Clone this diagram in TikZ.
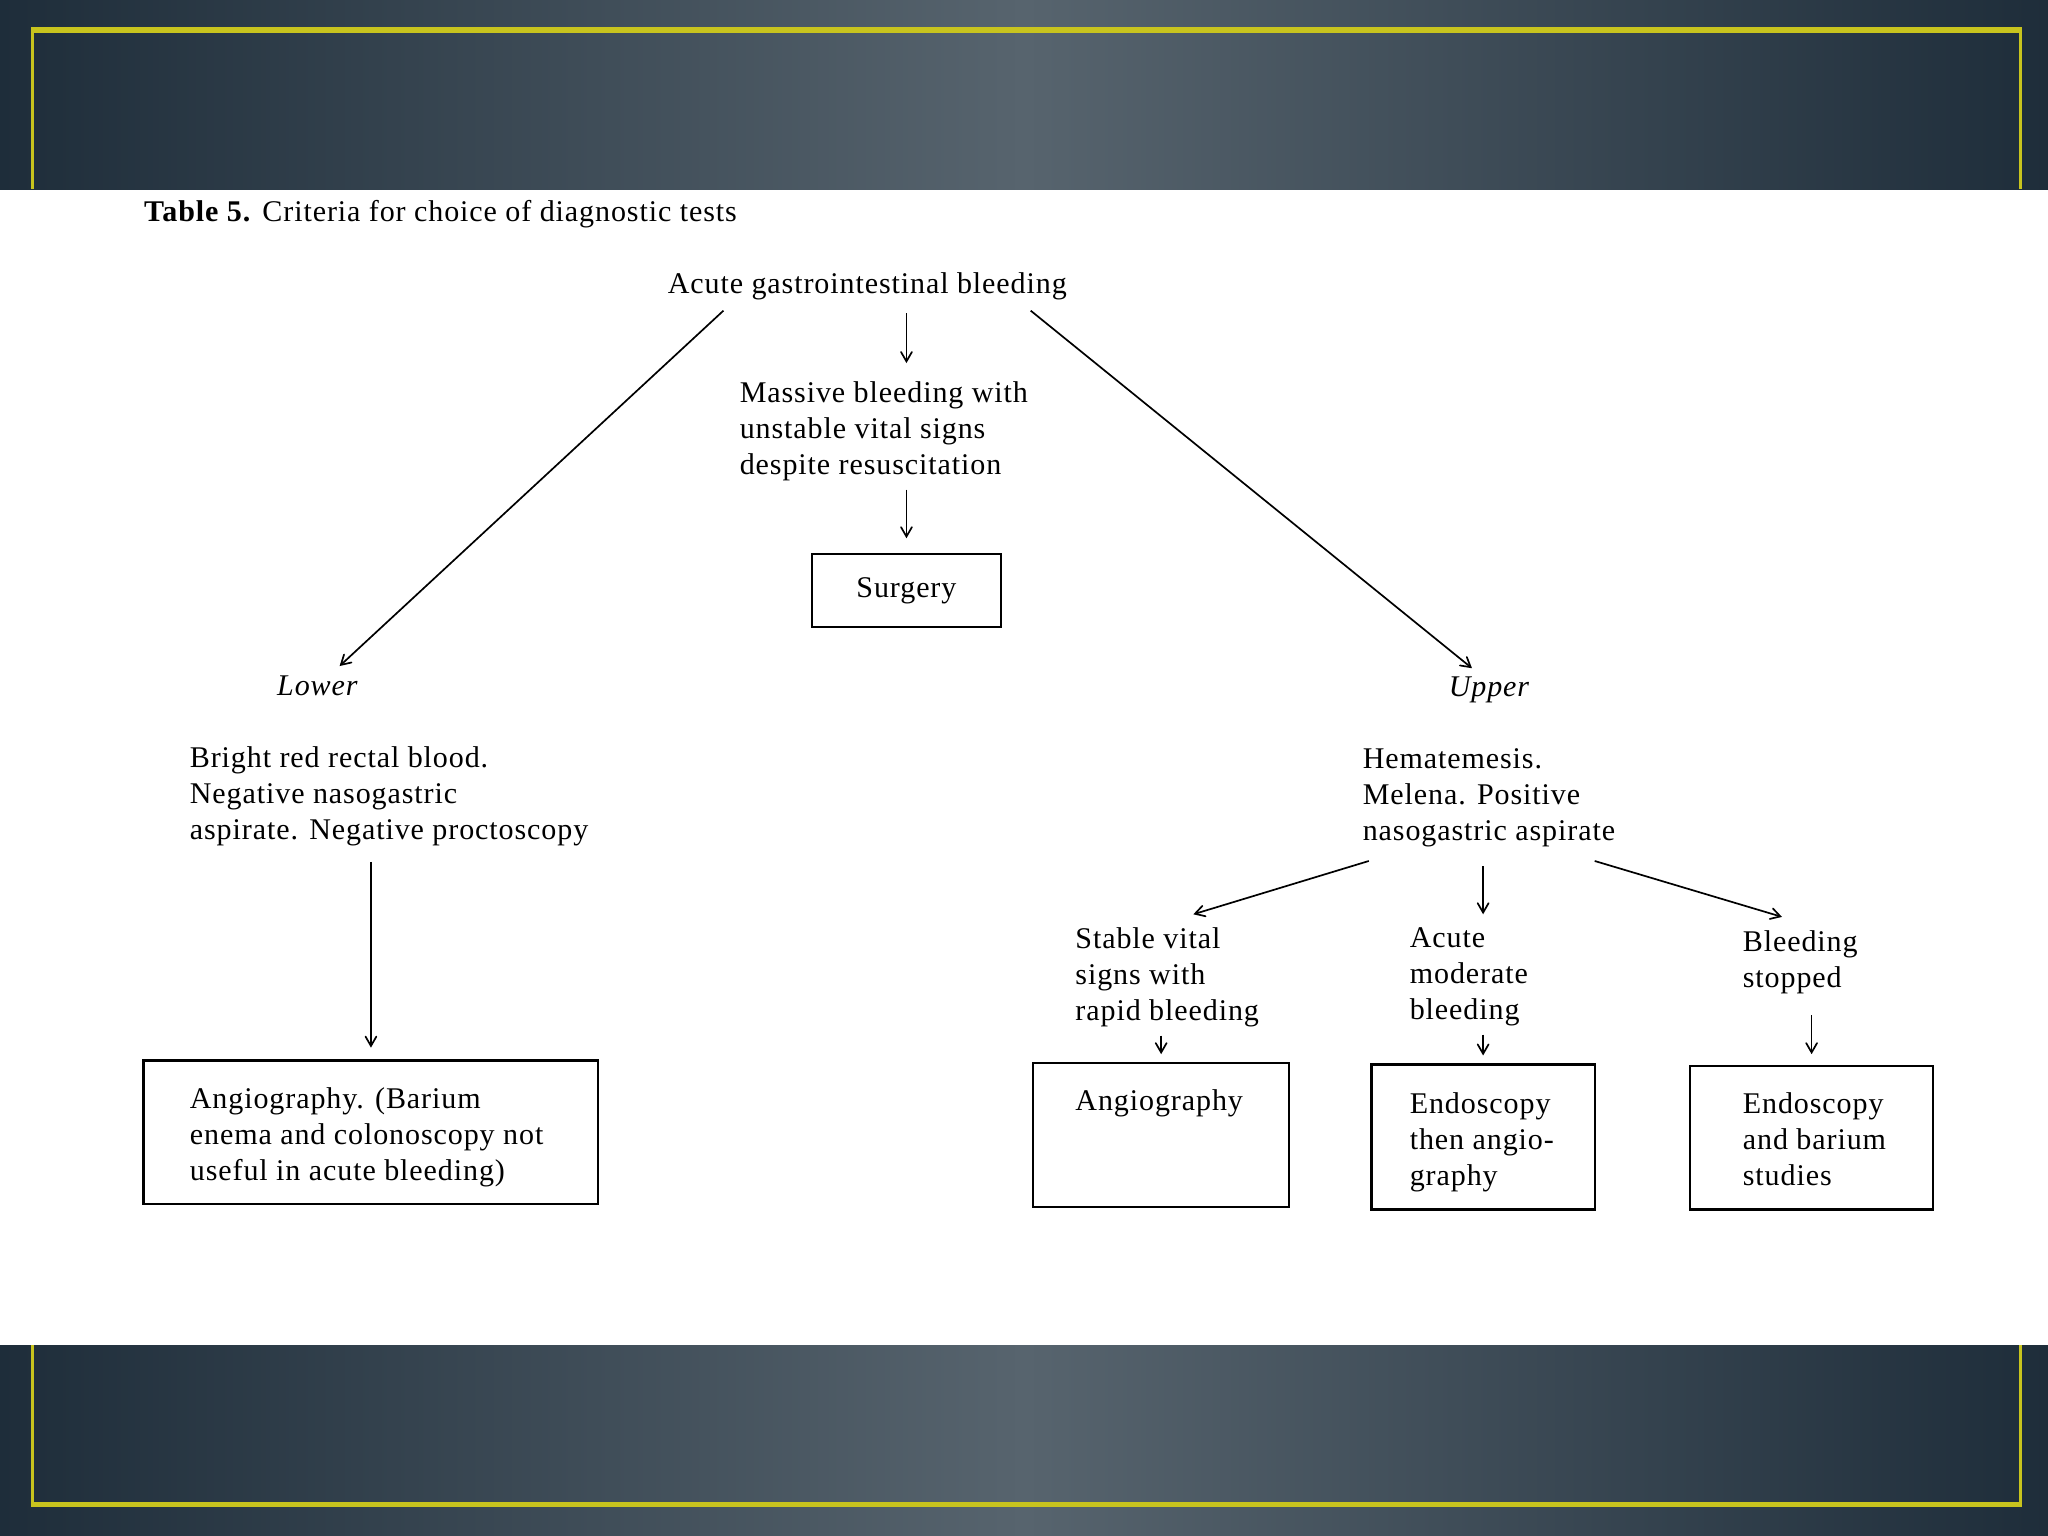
\documentclass[tikz,border=0pt]{standalone}
\usepackage{fontspec}
\setmainfont{Liberation Serif}[LetterSpace=3]
\usetikzlibrary{arrows}
\definecolor{slate}{HTML}{1E2D3A}
\definecolor{slatelight}{HTML}{57646E}
\definecolor{frameyellow}{HTML}{C8C41E}

\begin{document}
\begin{tikzpicture}[x=0.5pt, y=-0.5pt,
	txt/.style = {inner sep=0pt, align=left, font=\fontsize{11.5}{13.8}\selectfont},
	box/.style = {draw, line width=0.9pt, inner sep=0pt},
	arr/.style = {->, >=angle 60, line width=0.65pt}]
	\useasboundingbox (0,0) rectangle (1568,1176);
	% slide bands
	\shade[left color=slate, right color=slate, middle color=slatelight] (0,0) rectangle (1568,145);
	\shade[left color=slate, right color=slate, middle color=slatelight] (0,1030) rectangle (1568,1176);
	\draw[frameyellow, line width=2pt] (24,23) -- (1548,23);
	\draw[frameyellow, line width=1pt] (25,23) -- (25,145) (1547,23) -- (1547,145);
	\draw[frameyellow, line width=1pt] (25,1030) -- (25,1152) (1547,1030) -- (1547,1152);
	\draw[frameyellow, line width=2pt] (24,1152) -- (1548,1152);

	\node[txt, anchor=west] (title) at (110,164) {\textbf{Table 5.} Criteria for choice of diagnostic tests};

	\node[txt] (acute) at (664,219) {Acute gastrointestinal bleeding};
	\node[txt, anchor=north west] (massive) at (566,292) {Massive bleeding with\\unstable vital signs\\despite resuscitation};
	\node[box, minimum width=72.5pt, minimum height=28pt, txt] (surgery) at (694,452) {Surgery};

	\node[txt, font=\fontsize{11.5}{13.8}\selectfont\itshape] (lower) at (243,525) {Lower};
	\node[txt, font=\fontsize{11.5}{13.8}\selectfont\itshape] (upper) at (1140,528) {Upper};

	\node[txt, anchor=north west] (bright) at (145,571) {Bright red rectal blood.\\Negative nasogastric\\aspirate. Negative proctoscopy};
	\node[box, minimum width=174pt, minimum height=55pt] (lowbox) at (284,867) {};
	\node[txt, anchor=north west] (lowtext) at (145,832) {Angiography. (Barium\\enema and colonoscopy not\\useful in acute bleeding)};

	\node[txt, anchor=north west] (hemat) at (1043,573) {Hematemesis.\\Melena. Positive\\nasogastric aspirate};
	\node[txt, anchor=north west] (stable) at (823,710) {Stable vital\\signs with\\rapid bleeding};
	\node[txt, anchor=north west] (moder) at (1079,710) {Acute\\moderate\\bleeding};
	\node[txt, anchor=north west] (stopped) at (1334,712) {Bleeding\\stopped};

	\node[box, minimum width=98pt, minimum height=55pt] (angbox) at (889,869) {};
	\node[txt, anchor=north west] (angtext) at (823,834) {Angiography};
	\node[box, minimum width=85.5pt, minimum height=55.5pt] (endobox) at (1135.5,870.5) {};
	\node[txt, anchor=north west] (endotext) at (1079,836) {Endoscopy\\then angio-\\graphy};
	\node[box, minimum width=93pt, minimum height=55pt] (bariumbox) at (1387,871) {};
	\node[txt, anchor=north west] (bariumtext) at (1334,836) {Endoscopy\\and barium\\studies};

	\draw[arr, shorten <=5pt, shorten >=7pt] (acute.south -| surgery) -- (massive.north -| surgery);
	\draw[arr, shorten <=3pt, shorten >=5.5pt] (massive.south -| surgery) -- (surgery.north);
	\draw[arr] ([xshift=21.5pt, yshift=-4pt]acute.south west) -- ([xshift=8.5pt, yshift=3.5pt]lower.north);
	\draw[arr] ([xshift=-14pt, yshift=-4pt]acute.south east) -- ([xshift=-6.5pt, yshift=3pt]upper.north);
	\draw[arr, shorten <=6pt, shorten >=4.5pt] (bright.south -| lowbox.north) -- (lowbox.north);

	\draw[arr] ([xshift=2.5pt, yshift=-5pt]hemat.south west) -- ([xshift=10pt, yshift=5pt]stable.north);
	\draw[arr, shorten <=7pt, shorten >=5pt] (hemat.south -| endobox) -- (moder.north -| endobox);
	\draw[arr] ([xshift=-8pt, yshift=-5pt]hemat.south east) -- ([xshift=-7pt, yshift=5pt]stopped.north);

	\draw[arr, shorten <=3pt, shorten >=3pt] (stable.south -| angbox) -- (angbox.north);
	\draw[arr, shorten <=3pt, shorten >=3pt] (moder.south -| endobox) -- (endobox.north);
	\draw[arr, shorten <=8pt, shorten >=4pt] (stopped.south -| bariumbox) -- (bariumbox.north);
\end{tikzpicture}
\end{document}
